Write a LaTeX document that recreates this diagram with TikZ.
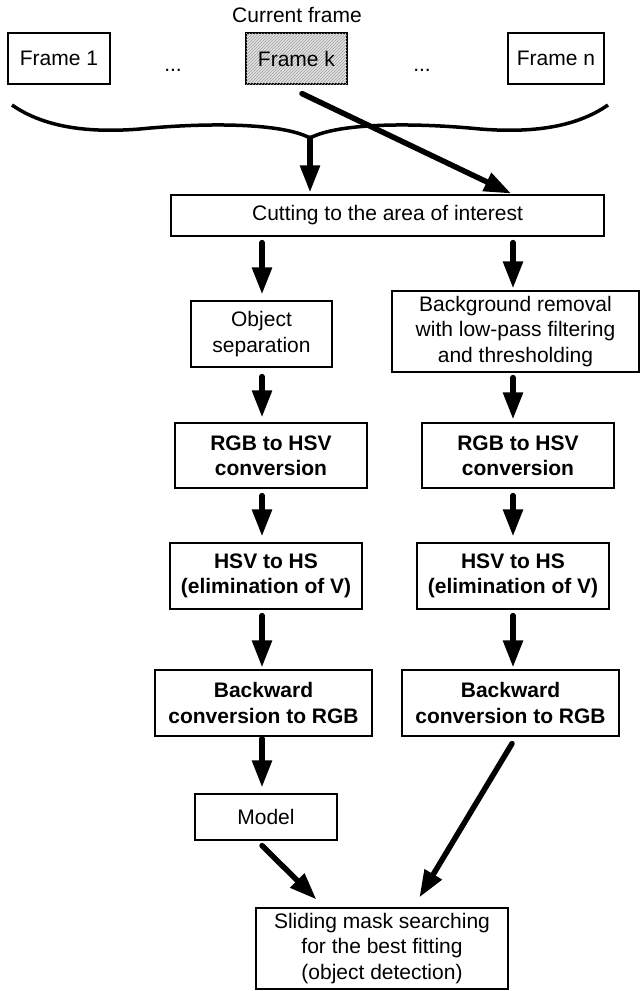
\documentclass[tikz,border=0pt]{standalone}
\usepackage{fontspec}
\setmainfont{Liberation Sans}
\usetikzlibrary{arrows.meta,patterns,calc}
\begin{document}
\begin{tikzpicture}[x=1pt,y=-1pt,
  txt/.style={font=\fontsize{21}{25.3}\selectfont},
  box/.style={draw=black, line width=1.2pt, inner sep=0pt, align=center, txt},
  bbox/.style={box, font=\fontsize{21}{25.3}\selectfont\bfseries},
  lbl/.style={inner sep=0pt, txt},
  arr/.style={line width=5.5pt, line cap=round, -{Triangle[length=27pt,width=19pt]}},
  hatched/.style={fill=gray!22, postaction={pattern=north east lines, pattern color=gray!75}},
]
\useasboundingbox (0,0) rectangle (641,991);

% top row
\node[lbl, anchor=base] (cur) at (297,22) {Current frame};
\node[box, minimum width=102pt, minimum height=51pt] (f1) at (59,58.5) {Frame 1};
\node[lbl, anchor=base] (d1) at (173,71) {...};
\node[box, hatched, minimum width=101pt, minimum height=51pt] (fk) at (296.5,58.5) {Frame k};
\node[lbl, anchor=base] (d2) at (422,71) {...};
\node[box, minimum width=96pt, minimum height=51pt] (fn) at (556,58.5) {Frame n};

% cutting
\node[box, minimum width=433pt, minimum height=41pt] (cut) at (387.5,215.5) {Cutting to the area of interest};

% left column
\node[box, minimum width=141pt, minimum height=66pt] (obj) at (261.5,334) {Object\\separation};
\node[bbox, minimum width=192pt, minimum height=65pt] (rgbL) at (271,455.5) {RGB to HSV\\conversion};
\node[bbox, minimum width=192pt, minimum height=66pt] (hsvL) at (266,576) {HSV to HS\\(elimination of V)};
\node[bbox, minimum width=217pt, minimum height=66pt] (bwL) at (263.5,703) {Backward\\conversion to RGB};
\node[box, minimum width=142pt, minimum height=46pt] (model) at (266,817) {Model};

% right column
\node[box, minimum width=247pt, minimum height=81pt] (bg) at (515.5,331.5) {Background removal\\with low-pass filtering\\and thresholding};
\node[bbox, minimum width=192pt, minimum height=65pt] (rgbR) at (518,455.5) {RGB to HSV\\conversion};
\node[bbox, minimum width=192pt, minimum height=66pt] (hsvR) at (513,576) {HSV to HS\\(elimination of V)};
\node[bbox, minimum width=217pt, minimum height=66pt] (bwR) at (510.5,703) {Backward\\conversion to RGB};

% final
\node[box, minimum width=252pt, minimum height=81pt] (slide) at (382,948.5) {Sliding mask searching\\for the best fitting\\(object detection)};

% column guides
\coordinate (cl) at (262,0);
\coordinate (cr) at (513,0);
\coordinate (tip) at (310,138);

% brace
\draw[line width=3.5pt] (12,105) .. controls (45,128) and (90,133) .. (140,129)
  .. controls (200,123) and (280,122) .. (tip)
  .. controls (340,122) and (420,123) .. (480,129)
  .. controls (530,133) and (575,128) .. (608,105);

% top arrows
\draw[arr, shorten >=2pt] (tip) -- (cut.north -| tip);
\draw[arr, shorten >=2pt] ($(fk.south)+(5.5,9)$) -- (cut.north -| cr);

% left column arrows
\draw[arr, shorten <=6pt, shorten >=6pt] (cut.south -| cl) -- (obj.north -| cl);
\draw[arr, shorten <=9pt, shorten >=5pt] (obj.south -| cl) -- (rgbL.north -| cl);
\draw[arr, shorten <=7pt, shorten >=6pt] (rgbL.south -| cl) -- (hsvL.north -| cl);
\draw[arr, shorten <=6pt, shorten >=2pt] (hsvL.south -| cl) -- (bwL.north -| cl);
\draw[arr, shorten <=2pt, shorten >=6pt] (bwL.south -| cl) -- (model.north -| cl);
\draw[arr] ($(model.south -| cl)+(0,5)$) -- ($(slide.north west)+(61,-8)$);

% right column arrows
\draw[arr, shorten <=6pt, shorten >=2pt] (cut.south -| cr) -- (bg.north -| cr);
\draw[arr, shorten <=5pt, shorten >=3pt] (bg.south -| cr) -- (rgbR.north -| cr);
\draw[arr, shorten <=7pt, shorten >=6pt] (rgbR.south -| cr) -- (hsvR.north -| cr);
\draw[arr, shorten <=6pt, shorten >=2pt] (hsvR.south -| cr) -- (bwR.north -| cr);
\draw[arr] ($(bwR.south)+(1.5,7)$) -- ($(slide.north west)+(164,-10)$);
\end{tikzpicture}
\end{document}
